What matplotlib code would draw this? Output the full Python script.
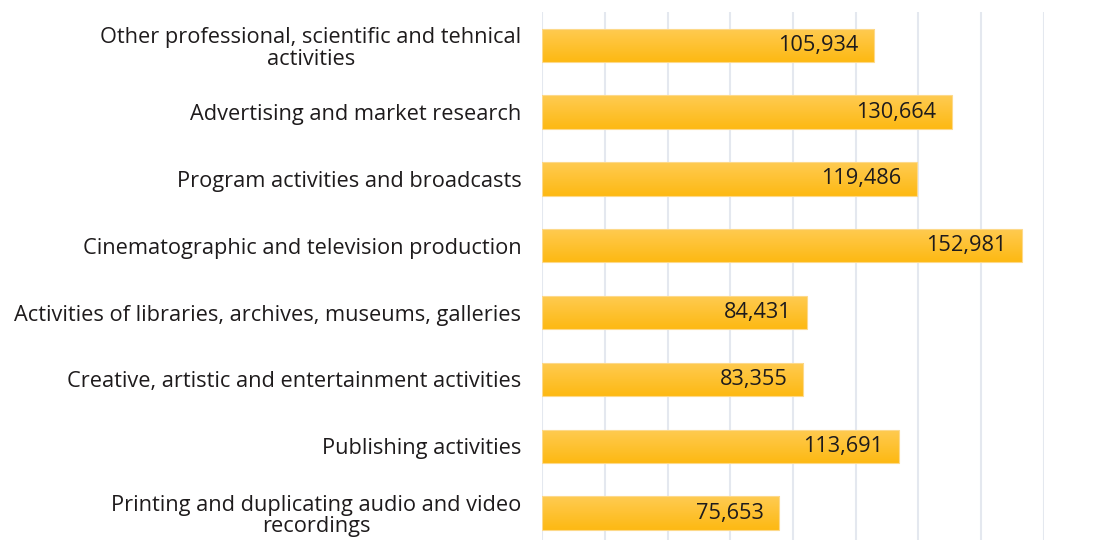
import numpy as np
import matplotlib.pyplot as plt
from matplotlib.colors import LinearSegmentedColormap

categories = [
    "Other professional, scientific and tehnical\nactivities",
    "Advertising and market research",
    "Program activities and broadcasts",
    "Cinematographic and television production",
    "Activities of libraries, archives, museums, galleries",
    "Creative, artistic and entertainment activities",
    "Publishing activities",
    "Printing and duplicating audio and video\nrecordings",
]
values = [105934, 130664, 119486, 152981, 84431, 83355, 113691, 75653]
x_ticks = [0, 20000, 40000, 60000, 80000, 100000, 120000, 140000, 160000]

plt.rcParams['font.family'] = ['Open Sans', 'DejaVu Sans']

fig = plt.figure(figsize=(10.93, 5.40), dpi=100)
ax = fig.add_axes([0.496, -0.012, 0.459, 0.99])

y = np.arange(len(categories))
bars = ax.barh(y, values, height=0.5, color='none', edgecolor='#FDD98A', linewidth=0.8, zorder=3)

# vertical gradient inside each bar
grad_cmap = LinearSegmentedColormap.from_list('gold', ['#FFCB52', '#FDB913'])
grad = np.linspace(0, 1, 64).reshape(-1, 1)
for b in bars:
    x0, y0 = b.get_x(), b.get_y()
    w, h = b.get_width(), b.get_height()
    im = ax.imshow(grad, cmap=grad_cmap, aspect='auto',
                   extent=[x0, x0 + w, y0 + h, y0], origin='upper', zorder=2)
    im.set_clip_path(b)

for yi, v in zip(y, values):
    ax.text(v - 5000, yi, f"{v:,}", ha='right', va='center',
            fontsize=15.7, color='#1E1B1C', zorder=4)

ax.set_xlim(0, 160000)
ax.set_ylim(len(categories) - 0.5, -0.5)
ax.set_xticks(x_ticks)
ax.set_xticklabels([])
ax.set_yticks(y)
ax.set_yticklabels(categories, fontsize=15.7, color='#1E1B1C', linespacing=1.05,
                   multialignment='center')
ax.tick_params(axis='both', length=0, pad=15)
ax.grid(axis='x', color='#E4E8EF', linewidth=1.5, zorder=0)
ax.set_axisbelow(True)
for s in ax.spines.values():
    s.set_visible(False)

fig.savefig('out.png', dpi=100)
